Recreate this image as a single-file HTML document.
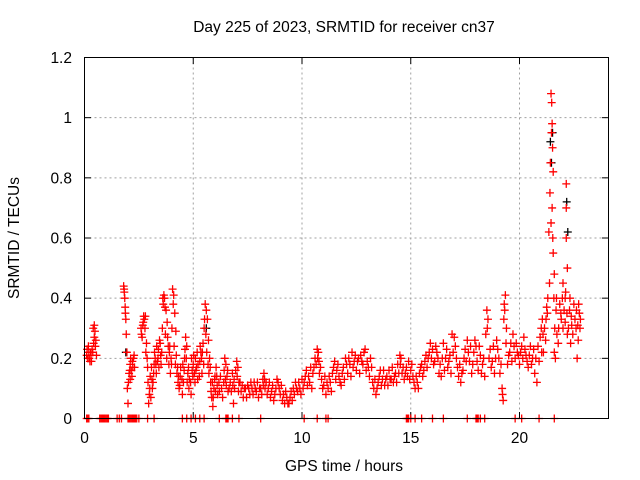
<!DOCTYPE html>
<html><head><meta charset="utf-8"><style>
html,body{margin:0;padding:0;background:#fff}
svg{display:block;font-family:"Liberation Sans",Arial,sans-serif}
</style></head><body>
<svg id="chart" width="640" height="480">
<rect x="0" y="0" width="640" height="480" fill="#fff"/>
<text x="344" y="32" font-size="15.5" text-anchor="middle">Day 225 of 2023, SRMTID for receiver cn37</text>
<text x="344" y="471" font-size="15.5" text-anchor="middle">GPS time / hours</text>
<text x="0" y="0" font-size="15.5" text-anchor="middle" transform="translate(19,238) rotate(-90)">SRMTID / TECUs</text>
<g id="grid"></g>
<g id="ticks"></g>
<g id="marks"></g>
<rect x="84.5" y="57.5" width="524" height="361" fill="none" stroke="#000"/>
</svg>
<script>
const xTicks=[0,5,10,15,20];
const yTicks=[0,0.2,0.4,0.6,0.8,1,1.2];
const yTickLabels=["0","0.2","0.4","0.6","0.8","1","1.2"];
const blackPts=[[21.42,0.92],[21.47,0.85],[21.52,0.95],[22.17,0.72],[22.22,0.62],[5.6,0.3],[1.9,0.22]];
const redPts=[[0.1,.21],[0.15,.2],[0.2,.22],[0.25,.19],[0.3,.21],[0.35,.23],[0.4,.3],[0.45,.27],[0.5,.24],[0.55,.21],[0.45,.31],[0.42,.25],
[1.8,.44],[1.82,.43],[1.85,.4],[1.87,.37],[1.9,.33],[1.92,.28],[1.95,.22],[1.97,.1],[2.0,.05],[2.05,.15],[2.1,.13],[2.15,.16],[2.2,.19],[2.25,.2],[2.3,.17],[2.1,.18],
[2.6,.3],[2.65,.27],[2.7,.32],[2.75,.33],[2.8,.34],[2.85,.25],[2.9,.17],[2.95,.05],[3.0,.1],[3.05,.07],[3.1,.13],[3.15,.12],[3.2,.18],[3.25,.2],[3.3,.15],[3.35,.19],[3.4,.23],[3.45,.26],[3.5,.21],[3.55,.22],[3.6,.4],[3.65,.41],[3.7,.37],[3.75,.36],[3.8,.32],[3.85,.24],[3.9,.22],[3.95,.15],[4.0,.18],[4.05,.43],[4.1,.41],[4.15,.35],[4.2,.29],[4.25,.15],[4.3,.12],[4.35,.1],[4.4,.14],[4.5,.08],[4.55,.12],[4.6,.2],[4.65,.27],[4.7,.24],[4.75,.15],[4.8,.1],[4.9,.08],[4.95,.16],[5.0,.18],[5.05,.15],[5.1,.2],[5.15,.17],[5.2,.13],[5.3,.19],[5.35,.22],[5.4,.15],[5.45,.25],[5.5,.3],[5.55,.38],[5.6,.36],[5.65,.33],[5.7,.26],[5.75,.2],[5.8,.12],[5.85,.07],[5.9,.04],[5.95,.1],[6.0,.14],[6.05,.17],[6.1,.11],[6.2,.09],[6.3,.1],[6.4,.12],[6.45,.2],[6.5,.18],[6.55,.14],[6.6,.09],[6.7,.12],[6.8,.15],[6.85,.05],[6.9,.1],[7.0,.19],[7.05,.17],[7.1,.12],[7.2,.09],[7.3,.07],[7.4,.1],[7.5,.11],[7.6,.08],[7.7,.1],[7.8,.12],[7.9,.09],[8.0,.07],[8.1,.1],[8.2,.13],[8.25,.15],[8.3,.1],[8.4,.08],[8.5,.12],[8.6,.09],[8.7,.06],[8.8,.1],[8.9,.12],[9.0,.08],[9.1,.06],[9.2,.05],[9.3,.07],[9.4,.05],[9.5,.09],[9.6,.1],[9.7,.12],[9.8,.09],[9.9,.1],[10.0,.13],[10.1,.12],[10.2,.16],[10.3,.14],[10.4,.17],[10.5,.15],[10.6,.2],[10.7,.23],[10.75,.22],[10.8,.15],[10.9,.13],[11.0,.11],[11.1,.08],[11.2,.1],[11.3,.12],[11.4,.15],[11.5,.19],[11.6,.16],[11.7,.14],[11.8,.11],[11.9,.17],[12.0,.2],[12.1,.15],[12.2,.18],[12.3,.22],[12.4,.19],[12.5,.16],[12.6,.2],[12.7,.21],[12.8,.18],[12.9,.23],[13.0,.19],[13.1,.14],[13.2,.17],[13.3,.1],[13.4,.08],[13.5,.12],[13.6,.16],[13.7,.13],[13.8,.11],[13.9,.14],[14.0,.16],[14.1,.13],[14.2,.12],[14.3,.15],[14.4,.18],[14.5,.21],[14.55,.2],[14.6,.15],[14.7,.13],[14.8,.17],[14.9,.19],[15.0,.16],[15.1,.14],[15.2,.1],[15.3,.12],[15.4,.15],[15.5,.18],[15.6,.16],[15.7,.21],[15.8,.2],[15.9,.25],[16.0,.23],[16.1,.19],[16.2,.22],[16.3,.15],[16.4,.14],[16.5,.25],[16.6,.2],[16.7,.17],[16.8,.21],[16.9,.28],[17.0,.27],[17.1,.2],[17.2,.14],[17.3,.12],[17.4,.16],[17.5,.23],[17.6,.26],[17.7,.19],[17.8,.15],[17.9,.22],[18.0,.24],[18.1,.16],[18.2,.21],[18.3,.18],[18.4,.14],[18.5,.36],[18.55,.33],[18.6,.2],[18.7,.17],[18.8,.24],[18.9,.2],[19.0,.23],[19.1,.15],[19.2,.1],[19.25,.06],[19.3,.38],[19.35,.41],[19.4,.3],[19.5,.21],[19.6,.25],[19.7,.28],[19.8,.2],[19.9,.22],[20.0,.18],[20.1,.24],[20.2,.27],[20.3,.21],[20.4,.17],[20.5,.24],[20.6,.2],[20.7,.15],[20.8,.12],[20.9,.19],[21.0,.3],[21.05,.33],[21.1,.22],[21.2,.26],[21.25,.37],[21.3,.4],[21.35,.62],[21.4,.75],[21.45,1.08],[21.48,1.05],[21.5,.98],[21.52,.9],[21.55,.82],[21.5,.7],[21.45,.65],[21.55,.55],[21.6,.48],[21.7,.4],[21.6,.22],[21.65,.2],[21.8,.3],[21.9,.35],[22.0,.3],[22.0,.45],[22.1,.4],[22.1,.32],[22.15,.6],[22.15,.7],[22.15,.78],[22.2,.5],[22.2,.28],[22.3,.36],[22.35,.25],[22.4,.31],[22.5,.38],[22.6,.3],[22.65,.2],[22.7,.26],[22.75,.35],[22.8,.33]];
const redPts2=[[0.12,.23],[0.22,.2],[0.32,.19],[0.38,.22],[0.48,.29],[0.52,.26],[0.28,.22],[0.18,.24],
[1.83,.42],[1.88,.35],[2.02,.12],[2.12,.2],[2.18,.14],[2.22,.17],[2.28,.21],[2.08,.16],
[2.62,.28],[2.68,.31],[2.72,.34],[2.78,.3],[2.82,.22],[2.88,.2],[2.92,.12],[2.98,.08],[3.02,.14],[3.08,.17],[3.12,.1],[3.18,.15],[3.22,.22],[3.28,.18],[3.32,.24],[3.38,.2],[3.42,.17],[3.48,.25],[3.52,.18],[3.58,.3],[3.62,.38],[3.68,.4],[3.72,.28],[3.78,.2],[3.82,.27],[3.88,.18],[3.92,.24],[3.98,.2],[4.02,.3],[4.08,.38],[4.12,.24],[4.18,.18],[4.22,.21],[4.28,.17],[4.32,.14],[4.38,.11],[4.42,.17],[4.48,.13],[4.52,.18],[4.58,.16],[4.62,.23],[4.68,.2],[4.72,.12],[4.78,.17],[4.82,.13],[4.88,.12],[4.92,.2],[4.98,.14],[5.02,.21],[5.08,.12],[5.12,.16],[5.18,.22],[5.22,.18],[5.28,.14],[5.32,.24],[5.38,.2],[5.42,.22],[5.48,.18],[5.52,.33],[5.58,.28],[5.62,.22],[5.68,.18],[5.72,.15],[5.78,.17],[5.82,.09],[5.88,.12],[5.92,.07],[5.98,.13],[6.02,.09],[6.08,.14],[6.12,.08],[6.18,.12],[6.25,.14],[6.35,.07],[6.42,.16],[6.48,.13],[6.52,.11],[6.58,.16],[6.65,.1],[6.75,.09],[6.82,.11],[6.88,.13],[6.95,.16],[7.02,.14],[7.08,.09],[7.15,.12],[7.25,.11],[7.35,.1],[7.45,.07],[7.55,.1],[7.65,.12],[7.75,.08],[7.85,.1],[7.95,.12],[8.05,.1],[8.15,.08],[8.22,.11],[8.28,.13],[8.35,.12],[8.45,.1],[8.55,.07],[8.65,.11],[8.75,.08],[8.85,.13],[8.95,.1],[9.05,.11],[9.15,.08],[9.25,.09],[9.35,.05],[9.45,.07],[9.55,.06],[9.65,.08],[9.75,.1],[9.85,.12],[9.95,.08],[10.05,.1],[10.15,.14],[10.25,.11],[10.35,.12],[10.45,.1],[10.55,.17],[10.65,.18],[10.72,.2],[10.78,.19],[10.85,.17],[10.95,.1],[11.05,.14],[11.15,.12],[11.25,.14],[11.35,.09],[11.45,.17],[11.55,.13],[11.65,.18],[11.75,.12],[11.85,.15],[11.95,.13],[12.05,.18],[12.15,.2],[12.25,.14],[12.35,.17],[12.45,.21],[12.55,.19],[12.65,.15],[12.75,.19],[12.85,.22],[12.95,.16],[13.05,.17],[13.15,.2],[13.25,.12],[13.35,.13],[13.45,.1],[13.55,.14],[13.65,.11],[13.75,.16],[13.85,.13],[13.95,.11],[14.05,.13],[14.15,.17],[14.25,.14],[14.35,.12],[14.45,.15],[14.52,.18],[14.65,.17],[14.75,.15],[14.85,.14],[14.95,.13],[15.05,.18],[15.15,.12],[15.25,.14],[15.35,.1],[15.45,.17],[15.55,.14],[15.65,.19],[15.75,.17],[15.85,.22],[15.95,.2],[16.05,.18],[16.15,.24],[16.25,.2],[16.35,.18],[16.45,.2],[16.55,.16],[16.65,.23],[16.75,.19],[16.85,.15],[16.95,.22],[17.05,.24],[17.15,.17],[17.25,.18],[17.35,.15],[17.45,.2],[17.55,.19],[17.65,.22],[17.75,.24],[17.85,.18],[17.95,.26],[18.05,.19],[18.15,.24],[18.25,.15],[18.35,.2],[18.45,.28],[18.52,.3],[18.65,.23],[18.75,.19],[18.85,.15],[18.95,.26],[19.05,.2],[19.15,.18],[19.22,.08],[19.28,.33],[19.32,.36],[19.38,.25],[19.45,.18],[19.55,.22],[19.65,.19],[19.75,.24],[19.85,.25],[19.95,.21],[20.05,.22],[20.15,.2],[20.25,.23],[20.35,.19],[20.45,.21],[20.55,.18],[20.65,.23],[20.75,.2],[20.85,.24],[20.95,.27],[21.02,.22],[21.08,.28],[21.15,.3],[21.22,.33],[21.28,.35],[21.38,.45],[21.42,.85],[21.47,.95],[21.53,.6],[21.58,.4],[21.62,.3],[21.68,.36],[21.72,.28],[21.78,.25],[21.85,.38],[21.92,.33],[21.97,.4],[22.05,.36],[22.12,.42],[22.18,.35],[22.25,.3],[22.32,.4],[22.38,.34],[22.45,.28],[22.55,.33],[22.62,.36],[22.68,.31],[22.72,.38],[22.78,.3]];
const zeroTimes=[0.1,0.15,0.2,0.7,0.75,0.8,0.85,0.9,0.95,1.0,1.05,1.1,1.5,1.6,1.7,2.0,2.05,2.1,2.15,2.2,2.25,2.3,2.35,2.4,2.5,2.9,3.2,4.5,4.7,4.9,5.1,5.3,5.5,6.2,6.5,6.55,6.6,6.8,7.1,8.1,10.1,10.7,11.1,11.2,14.8,14.85,14.9,15.0,15.2,15.5,16.0,16.5,17.6,18.0,18.05,18.1,18.2,18.4,19.8,20.1,20.9,21.6];
const x=t=>84.5+t*21.75;
const y=v=>418.5-v*(361/1.2);
const NS="http://www.w3.org/2000/svg";
const grid=document.getElementById('grid'),ticks=document.getElementById('ticks'),marks=document.getElementById('marks');
function mk(tag,attrs,parent){const e=document.createElementNS(NS,tag);for(const k in attrs)e.setAttribute(k,attrs[k]);parent.appendChild(e);return e;}
xTicks.forEach(t=>{
  if(t>0){const g=mk('line',{x1:x(t),x2:x(t),y1:57.5,y2:418.5,stroke:'#a0a0a0','stroke-dasharray':'2,3'},grid);
  
  }
  const l=mk('text',{x:x(t),y:443,'font-size':15.5,'text-anchor':'middle'},ticks);l.textContent=String(t);
  
  
  mk('line',{x1:x(t),x2:x(t),y1:418.5,y2:412,stroke:'#000'},ticks);
  mk('line',{x1:x(t),x2:x(t),y1:57.5,y2:64,stroke:'#000'},ticks);
});
yTicks.forEach((v,i)=>{
  if(v>0&&v<1.2){const g=mk('line',{x1:84.5,x2:608.5,y1:y(v),y2:y(v),stroke:'#a0a0a0','stroke-dasharray':'2,3'},grid);
  
  }
  const l=mk('text',{x:72,y:y(v)+5.5,'font-size':15.5,'text-anchor':'end'},ticks);l.textContent=yTickLabels[i];
  
  
  mk('line',{x1:84.5,x2:91,y1:y(v),y2:y(v),stroke:'#000'},ticks);
  mk('line',{x1:608.5,x2:602,y1:y(v),y2:y(v),stroke:'#000'},ticks);
});
function plus(t,v,col){
  const p=mk('path',{d:`M${x(t)-4},${y(v)}h8M${x(t)},${y(v)-4}v8`,stroke:col,'stroke-width':1.3,fill:'none'},marks);
  
  
}
blackPts.forEach(p=>plus(p[0],p[1],'#000'));
redPts.forEach(p=>plus(p[0],p[1],'#f00'));
redPts2.forEach(p=>plus(p[0],p[1],'#f00'));
zeroTimes.forEach(t=>plus(t,0,'#f00'));
</script>
</body></html>
